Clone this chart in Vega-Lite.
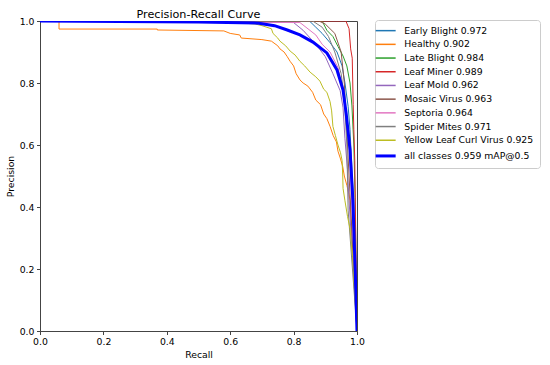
{
  "$schema": "https://vega.github.io/schema/vega-lite/v6.json",
  "autosize": "none",
  "width": 317,
  "height": 310,
  "padding": {"left": 40, "top": 21, "right": 193, "bottom": 34},
  "background": "white",
  "config": {
    "font": "DejaVu Sans",
    "view": {"stroke": "#444", "strokeWidth": 1},
    "axis": {"grid": false, "domainColor": "#444", "tickColor": "#444", "labelColor": "#000", "titleColor": "#000", "labelFontSize": 9.3, "titleFontSize": 9.3, "titleFontWeight": "normal", "tickSize": 3.5, "labelPadding": 2.5, "labelFlush": false, "labelOverlap": false, "labelFont": "DejaVu Sans", "titleFont": "DejaVu Sans"}
  },
  "title": {"text": "Precision-Recall Curve", "fontSize": 11.2, "fontWeight": "normal", "font": "DejaVu Sans", "anchor": "middle", "frame": "group", "offset": -3, "color": "#000"},
  "data": {"values": [
    {"c":"Early Blight 0.972","i":0,"r":0,"p":1},
    {"c":"Early Blight 0.972","i":1,"r":0.85,"p":1},
    {"c":"Early Blight 0.972","i":2,"r":0.87,"p":0.98},
    {"c":"Early Blight 0.972","i":3,"r":0.89,"p":0.96},
    {"c":"Early Blight 0.972","i":4,"r":0.915,"p":0.93},
    {"c":"Early Blight 0.972","i":5,"r":0.937,"p":0.9},
    {"c":"Early Blight 0.972","i":6,"r":0.953,"p":0.855},
    {"c":"Early Blight 0.972","i":7,"r":0.962,"p":0.8},
    {"c":"Early Blight 0.972","i":8,"r":0.972,"p":0.725},
    {"c":"Early Blight 0.972","i":9,"r":0.978,"p":0.65},
    {"c":"Early Blight 0.972","i":10,"r":0.985,"p":0.5},
    {"c":"Early Blight 0.972","i":11,"r":0.99,"p":0.4},
    {"c":"Early Blight 0.972","i":12,"r":1,"p":0},

    {"c":"Healthy 0.902","i":0,"r":0,"p":1},
    {"c":"Healthy 0.902","i":1,"r":0.06,"p":1},
    {"c":"Healthy 0.902","i":2,"r":0.06,"p":0.974},
    {"c":"Healthy 0.902","i":3,"r":0.37,"p":0.974},
    {"c":"Healthy 0.902","i":4,"r":0.37,"p":0.971},
    {"c":"Healthy 0.902","i":5,"r":0.58,"p":0.968},
    {"c":"Healthy 0.902","i":6,"r":0.6,"p":0.96},
    {"c":"Healthy 0.902","i":7,"r":0.63,"p":0.955},
    {"c":"Healthy 0.902","i":8,"r":0.635,"p":0.945},
    {"c":"Healthy 0.902","i":9,"r":0.7,"p":0.94},
    {"c":"Healthy 0.902","i":10,"r":0.73,"p":0.935},
    {"c":"Healthy 0.902","i":11,"r":0.75,"p":0.92},
    {"c":"Healthy 0.902","i":12,"r":0.757,"p":0.91},
    {"c":"Healthy 0.902","i":13,"r":0.77,"p":0.9},
    {"c":"Healthy 0.902","i":14,"r":0.78,"p":0.885},
    {"c":"Healthy 0.902","i":15,"r":0.789,"p":0.87},
    {"c":"Healthy 0.902","i":16,"r":0.8,"p":0.855},
    {"c":"Healthy 0.902","i":17,"r":0.808,"p":0.83},
    {"c":"Healthy 0.902","i":18,"r":0.82,"p":0.81},
    {"c":"Healthy 0.902","i":19,"r":0.83,"p":0.8},
    {"c":"Healthy 0.902","i":20,"r":0.845,"p":0.79},
    {"c":"Healthy 0.902","i":21,"r":0.86,"p":0.77},
    {"c":"Healthy 0.902","i":22,"r":0.87,"p":0.745},
    {"c":"Healthy 0.902","i":23,"r":0.885,"p":0.73},
    {"c":"Healthy 0.902","i":24,"r":0.895,"p":0.7},
    {"c":"Healthy 0.902","i":25,"r":0.905,"p":0.685},
    {"c":"Healthy 0.902","i":26,"r":0.915,"p":0.66},
    {"c":"Healthy 0.902","i":27,"r":0.925,"p":0.63},
    {"c":"Healthy 0.902","i":28,"r":0.935,"p":0.61},
    {"c":"Healthy 0.902","i":29,"r":0.94,"p":0.58},
    {"c":"Healthy 0.902","i":30,"r":0.948,"p":0.555},
    {"c":"Healthy 0.902","i":31,"r":0.955,"p":0.53},
    {"c":"Healthy 0.902","i":32,"r":0.96,"p":0.5},
    {"c":"Healthy 0.902","i":33,"r":0.968,"p":0.47},
    {"c":"Healthy 0.902","i":34,"r":0.975,"p":0.44},
    {"c":"Healthy 0.902","i":35,"r":0.978,"p":0.42},
    {"c":"Healthy 0.902","i":36,"r":1,"p":0},

    {"c":"Late Blight 0.984","i":0,"r":0,"p":1},
    {"c":"Late Blight 0.984","i":1,"r":0.89,"p":1},
    {"c":"Late Blight 0.984","i":2,"r":0.905,"p":0.97},
    {"c":"Late Blight 0.984","i":3,"r":0.924,"p":0.95},
    {"c":"Late Blight 0.984","i":4,"r":0.94,"p":0.918},
    {"c":"Late Blight 0.984","i":5,"r":0.956,"p":0.887},
    {"c":"Late Blight 0.984","i":6,"r":0.968,"p":0.855},
    {"c":"Late Blight 0.984","i":7,"r":0.978,"p":0.8},
    {"c":"Late Blight 0.984","i":8,"r":0.984,"p":0.726},
    {"c":"Late Blight 0.984","i":9,"r":0.99,"p":0.6},
    {"c":"Late Blight 0.984","i":10,"r":0.994,"p":0.43},
    {"c":"Late Blight 0.984","i":11,"r":1,"p":0},

    {"c":"Leaf Miner 0.989","i":0,"r":0,"p":1},
    {"c":"Leaf Miner 0.989","i":1,"r":0.965,"p":1},
    {"c":"Leaf Miner 0.989","i":2,"r":0.975,"p":0.975},
    {"c":"Leaf Miner 0.989","i":3,"r":0.98,"p":0.91},
    {"c":"Leaf Miner 0.989","i":4,"r":0.985,"p":0.88},
    {"c":"Leaf Miner 0.989","i":5,"r":0.988,"p":0.73},
    {"c":"Leaf Miner 0.989","i":6,"r":0.99,"p":0.65},
    {"c":"Leaf Miner 0.989","i":7,"r":0.993,"p":0.55},
    {"c":"Leaf Miner 0.989","i":8,"r":1,"p":0},

    {"c":"Leaf Mold 0.962","i":0,"r":0,"p":1},
    {"c":"Leaf Mold 0.962","i":1,"r":0.8,"p":0.995},
    {"c":"Leaf Mold 0.962","i":2,"r":0.83,"p":0.97},
    {"c":"Leaf Mold 0.962","i":3,"r":0.87,"p":0.925},
    {"c":"Leaf Mold 0.962","i":4,"r":0.9,"p":0.885},
    {"c":"Leaf Mold 0.962","i":5,"r":0.924,"p":0.83},
    {"c":"Leaf Mold 0.962","i":6,"r":0.947,"p":0.775},
    {"c":"Leaf Mold 0.962","i":7,"r":0.956,"p":0.72},
    {"c":"Leaf Mold 0.962","i":8,"r":0.962,"p":0.62},
    {"c":"Leaf Mold 0.962","i":9,"r":0.97,"p":0.52},
    {"c":"Leaf Mold 0.962","i":10,"r":0.975,"p":0.42},
    {"c":"Leaf Mold 0.962","i":11,"r":1,"p":0},

    {"c":"Mosaic Virus 0.963","i":0,"r":0,"p":1},
    {"c":"Mosaic Virus 0.963","i":1,"r":0.88,"p":1},
    {"c":"Mosaic Virus 0.963","i":2,"r":0.9,"p":0.99},
    {"c":"Mosaic Virus 0.963","i":3,"r":0.93,"p":0.96},
    {"c":"Mosaic Virus 0.963","i":4,"r":0.95,"p":0.9},
    {"c":"Mosaic Virus 0.963","i":5,"r":0.96,"p":0.8},
    {"c":"Mosaic Virus 0.963","i":6,"r":0.965,"p":0.7},
    {"c":"Mosaic Virus 0.963","i":7,"r":0.97,"p":0.6},
    {"c":"Mosaic Virus 0.963","i":8,"r":0.975,"p":0.5},
    {"c":"Mosaic Virus 0.963","i":9,"r":0.98,"p":0.4},
    {"c":"Mosaic Virus 0.963","i":10,"r":1,"p":0},

    {"c":"Septoria 0.964","i":0,"r":0,"p":1},
    {"c":"Septoria 0.964","i":1,"r":0.82,"p":0.995},
    {"c":"Septoria 0.964","i":2,"r":0.87,"p":0.955},
    {"c":"Septoria 0.964","i":3,"r":0.89,"p":0.925},
    {"c":"Septoria 0.964","i":4,"r":0.915,"p":0.9},
    {"c":"Septoria 0.964","i":5,"r":0.94,"p":0.85},
    {"c":"Septoria 0.964","i":6,"r":0.955,"p":0.78},
    {"c":"Septoria 0.964","i":7,"r":0.965,"p":0.7},
    {"c":"Septoria 0.964","i":8,"r":0.975,"p":0.6},
    {"c":"Septoria 0.964","i":9,"r":0.98,"p":0.5},
    {"c":"Septoria 0.964","i":10,"r":1,"p":0},

    {"c":"Spider Mites 0.971","i":0,"r":0,"p":1},
    {"c":"Spider Mites 0.971","i":1,"r":0.86,"p":1},
    {"c":"Spider Mites 0.971","i":2,"r":0.89,"p":0.98},
    {"c":"Spider Mites 0.971","i":3,"r":0.91,"p":0.95},
    {"c":"Spider Mites 0.971","i":4,"r":0.93,"p":0.9},
    {"c":"Spider Mites 0.971","i":5,"r":0.95,"p":0.83},
    {"c":"Spider Mites 0.971","i":6,"r":0.96,"p":0.75},
    {"c":"Spider Mites 0.971","i":7,"r":0.968,"p":0.6},
    {"c":"Spider Mites 0.971","i":8,"r":0.972,"p":0.39},
    {"c":"Spider Mites 0.971","i":9,"r":1,"p":0},

    {"c":"Yellow Leaf Curl Virus 0.925","i":0,"r":0,"p":1},
    {"c":"Yellow Leaf Curl Virus 0.925","i":1,"r":0.6,"p":0.997},
    {"c":"Yellow Leaf Curl Virus 0.925","i":2,"r":0.68,"p":0.99},
    {"c":"Yellow Leaf Curl Virus 0.925","i":3,"r":0.7,"p":0.985},
    {"c":"Yellow Leaf Curl Virus 0.925","i":4,"r":0.73,"p":0.975},
    {"c":"Yellow Leaf Curl Virus 0.925","i":5,"r":0.735,"p":0.96},
    {"c":"Yellow Leaf Curl Virus 0.925","i":6,"r":0.75,"p":0.945},
    {"c":"Yellow Leaf Curl Virus 0.925","i":7,"r":0.757,"p":0.935},
    {"c":"Yellow Leaf Curl Virus 0.925","i":8,"r":0.775,"p":0.92},
    {"c":"Yellow Leaf Curl Virus 0.925","i":9,"r":0.789,"p":0.903},
    {"c":"Yellow Leaf Curl Virus 0.925","i":10,"r":0.805,"p":0.89},
    {"c":"Yellow Leaf Curl Virus 0.925","i":11,"r":0.82,"p":0.87},
    {"c":"Yellow Leaf Curl Virus 0.925","i":12,"r":0.835,"p":0.855},
    {"c":"Yellow Leaf Curl Virus 0.925","i":13,"r":0.852,"p":0.835},
    {"c":"Yellow Leaf Curl Virus 0.925","i":14,"r":0.87,"p":0.82},
    {"c":"Yellow Leaf Curl Virus 0.925","i":15,"r":0.883,"p":0.806},
    {"c":"Yellow Leaf Curl Virus 0.925","i":16,"r":0.895,"p":0.78},
    {"c":"Yellow Leaf Curl Virus 0.925","i":17,"r":0.905,"p":0.77},
    {"c":"Yellow Leaf Curl Virus 0.925","i":18,"r":0.915,"p":0.74},
    {"c":"Yellow Leaf Curl Virus 0.925","i":19,"r":0.92,"p":0.71},
    {"c":"Yellow Leaf Curl Virus 0.925","i":20,"r":0.924,"p":0.66},
    {"c":"Yellow Leaf Curl Virus 0.925","i":21,"r":0.932,"p":0.63},
    {"c":"Yellow Leaf Curl Virus 0.925","i":22,"r":0.94,"p":0.6},
    {"c":"Yellow Leaf Curl Virus 0.925","i":23,"r":0.948,"p":0.575},
    {"c":"Yellow Leaf Curl Virus 0.925","i":24,"r":0.953,"p":0.55},
    {"c":"Yellow Leaf Curl Virus 0.925","i":25,"r":0.955,"p":0.5},
    {"c":"Yellow Leaf Curl Virus 0.925","i":26,"r":0.956,"p":0.46},
    {"c":"Yellow Leaf Curl Virus 0.925","i":27,"r":0.962,"p":0.42},
    {"c":"Yellow Leaf Curl Virus 0.925","i":28,"r":0.97,"p":0.37},
    {"c":"Yellow Leaf Curl Virus 0.925","i":29,"r":0.978,"p":0.33},
    {"c":"Yellow Leaf Curl Virus 0.925","i":30,"r":0.982,"p":0.28},
    {"c":"Yellow Leaf Curl Virus 0.925","i":31,"r":0.986,"p":0.24},
    {"c":"Yellow Leaf Curl Virus 0.925","i":32,"r":1,"p":0},

    {"c":"all classes 0.959 mAP@0.5","i":0,"r":0,"p":1},
    {"c":"all classes 0.959 mAP@0.5","i":1,"r":0.5,"p":0.997},
    {"c":"all classes 0.959 mAP@0.5","i":2,"r":0.69,"p":0.993},
    {"c":"all classes 0.959 mAP@0.5","i":3,"r":0.74,"p":0.985},
    {"c":"all classes 0.959 mAP@0.5","i":4,"r":0.78,"p":0.971},
    {"c":"all classes 0.959 mAP@0.5","i":5,"r":0.82,"p":0.955},
    {"c":"all classes 0.959 mAP@0.5","i":6,"r":0.861,"p":0.932},
    {"c":"all classes 0.959 mAP@0.5","i":7,"r":0.905,"p":0.897},
    {"c":"all classes 0.959 mAP@0.5","i":8,"r":0.937,"p":0.842},
    {"c":"all classes 0.959 mAP@0.5","i":9,"r":0.956,"p":0.777},
    {"c":"all classes 0.959 mAP@0.5","i":10,"r":0.966,"p":0.7},
    {"c":"all classes 0.959 mAP@0.5","i":11,"r":0.978,"p":0.584},
    {"c":"all classes 0.959 mAP@0.5","i":12,"r":0.987,"p":0.423},
    {"c":"all classes 0.959 mAP@0.5","i":13,"r":0.994,"p":0.206},
    {"c":"all classes 0.959 mAP@0.5","i":14,"r":1,"p":0}
  ]},
  "encoding": {
    "x": {"field": "r", "type": "quantitative", "scale": {"domain": [0, 1], "nice": false}, "axis": {"title": "Recall", "values": [0, 0.2, 0.4, 0.6, 0.8, 1.0], "format": ".1f", "titlePadding": 4}},
    "y": {"field": "p", "type": "quantitative", "scale": {"domain": [0, 1], "nice": false}, "axis": {"title": "Precision", "values": [0, 0.2, 0.4, 0.6, 0.8, 1.0], "format": ".1f", "titlePadding": 4}},
    "order": {"field": "i", "type": "quantitative"},
    "color": {
      "field": "c", "type": "nominal",
      "scale": {
        "domain": ["Early Blight 0.972", "Healthy 0.902", "Late Blight 0.984", "Leaf Miner 0.989", "Leaf Mold 0.962", "Mosaic Virus 0.963", "Septoria 0.964", "Spider Mites 0.971", "Yellow Leaf Curl Virus 0.925", "all classes 0.959 mAP@0.5"],
        "range": ["#1f77b4", "#ff7f0e", "#2ca02c", "#d62728", "#9467bd", "#8c564b", "#e377c2", "#7f7f7f", "#bcbd22", "#0000ff"]
      },
      "legend": {
        "title": null, "orient": "none", "legendX": 335, "legendY": -1,
        "symbolType": "stroke", "symbolSize": 400, "rowPadding": 3.7,
        "labelFontSize": 9.3, "labelFont": "DejaVu Sans", "labelColor": "#000", "labelLimit": 300,
        "padding": 6, "strokeColor": "#ccc", "fillColor": "white", "cornerRadius": 3, "labelOffset": 14,
        "symbolOpacity": 1,
        "encode": {"symbols": {"update": {"strokeWidth": {"signal": "datum.value === 'all classes 0.959 mAP@0.5' ? 3 : 1.5"}}}}
      }
    }
  },
  "layer": [
    {
      "transform": [{"filter": "datum.c !== 'all classes 0.959 mAP@0.5'"}],
      "mark": {"type": "line", "clip": true, "strokeWidth": 1}
    },
    {
      "transform": [{"filter": "datum.c === 'all classes 0.959 mAP@0.5'"}],
      "mark": {"type": "line", "clip": true, "strokeWidth": 3}
    }
  ]
}
